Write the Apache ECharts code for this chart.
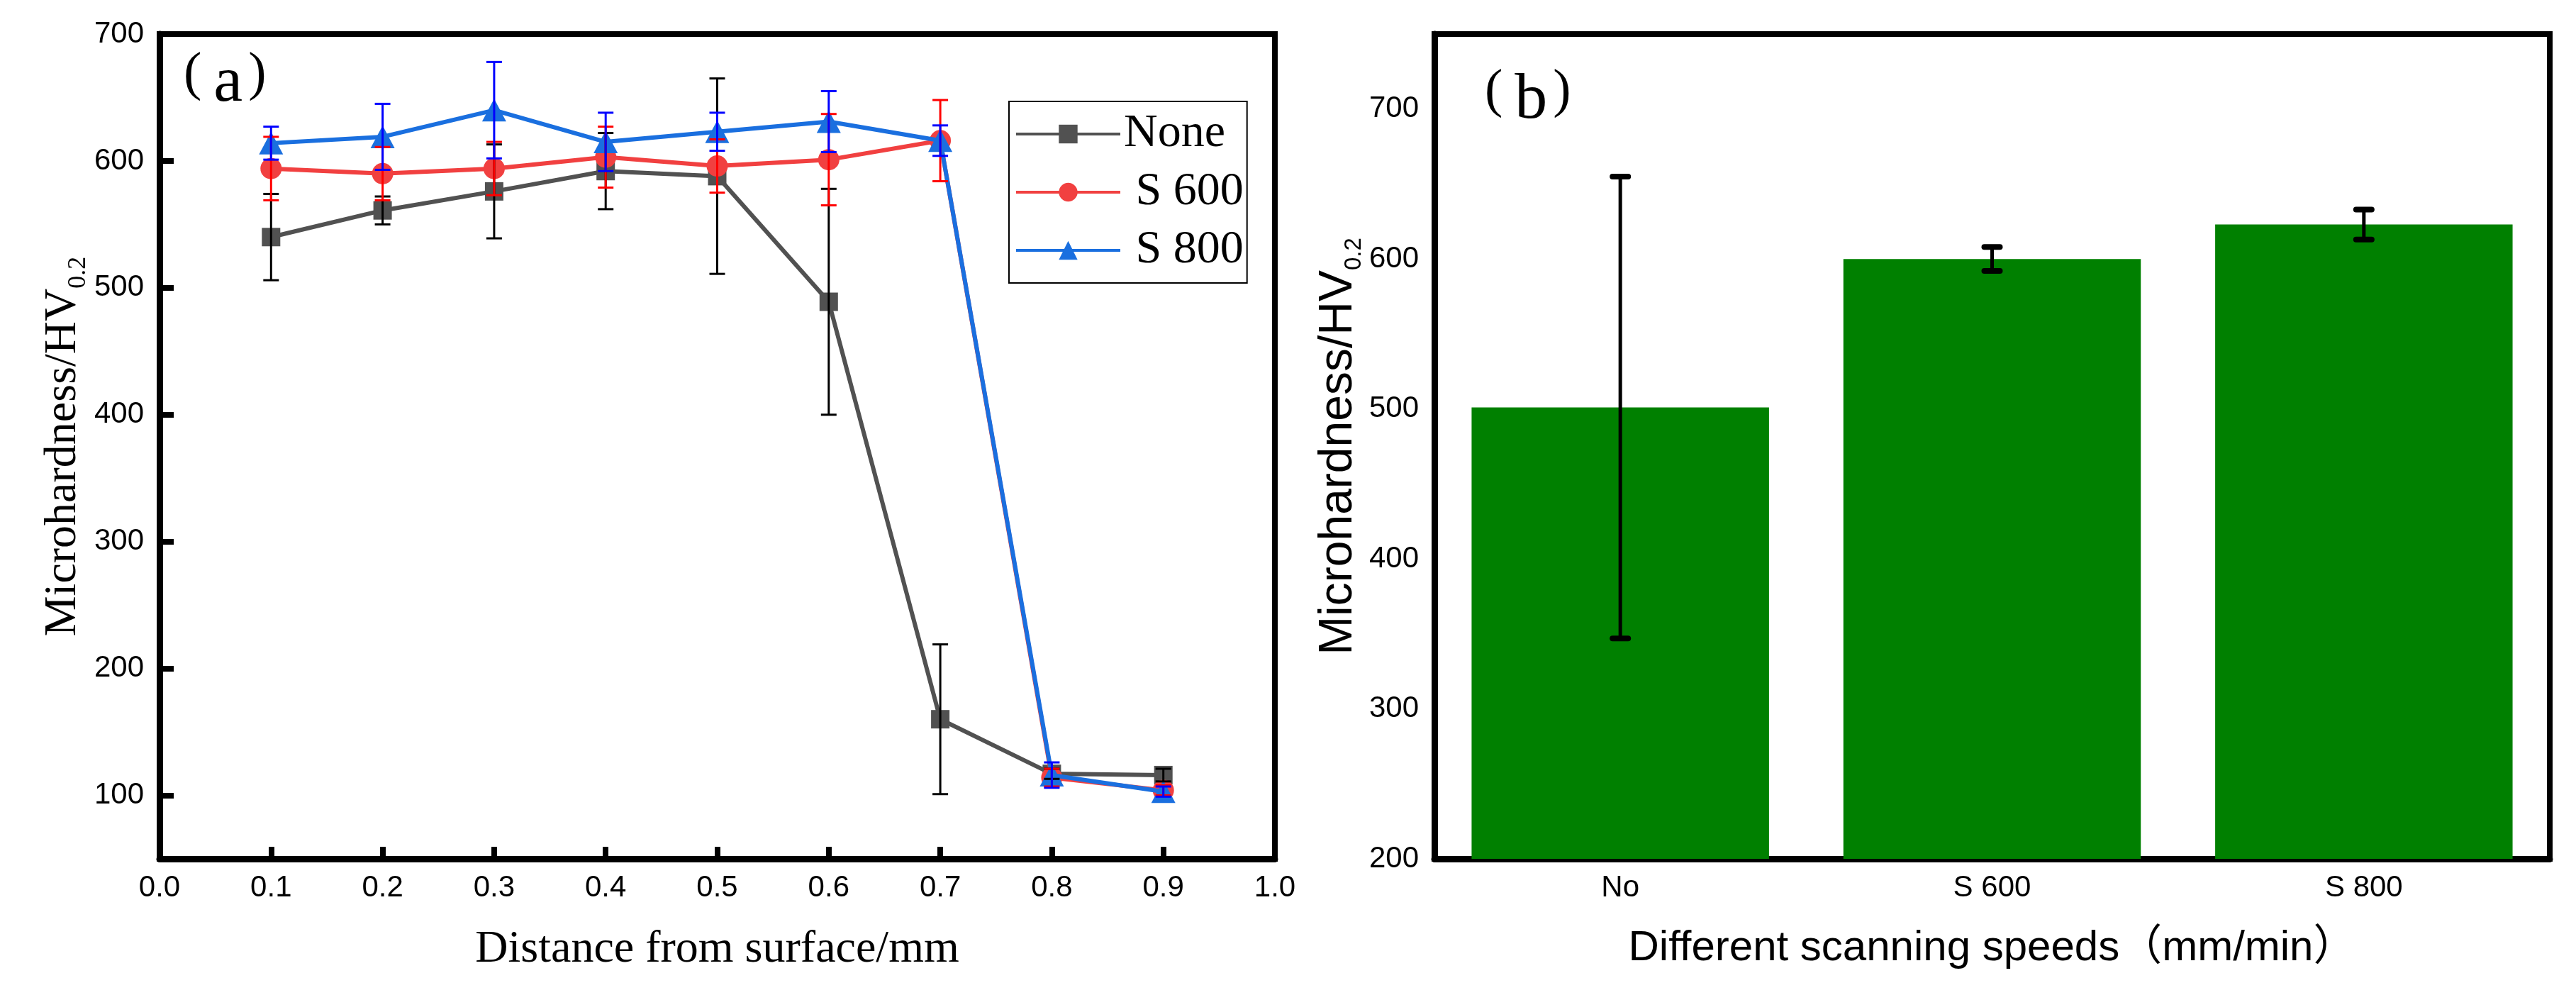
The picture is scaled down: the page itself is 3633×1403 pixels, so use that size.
<!DOCTYPE html>
<html>
<head>
<meta charset="utf-8">
<script src="https://cdn.jsdelivr.net/npm/echarts@6/dist/echarts.min.js"></script>
<style>
html, body { margin: 0; padding: 0; background: #fff; }
#main { width: 3633px; height: 1403px; }
</style>
</head>
<body>
<div id="main"></div>
<script>
// (a) 显微硬度随距表面距离的变化
var distance = [0.1, 0.2, 0.3, 0.4, 0.5, 0.6, 0.7, 0.8, 0.9];
var none = [540, 561, 576, 592, 588, 489, 160, 117, 116];
var noneErr = [34, 11, 37, 30, 77, 89, 59, 4, 5];
var s600 = [594, 590, 594, 603, 596, 601, 616, 114, 104];
var s600Err = [25, 21, 21, 24, 21, 36, 32, 7, 4];
var s800 = [614, 619, 640, 615, 623, 631, 616, 116, 103];
var s800Err = [13, 26, 38, 23, 15, 24, 12, 10, 4];
var leftTicks = [100, 200, 300, 400, 500, 600, 700];

// (b) 不同扫描速度的平均硬度
var speeds = ['No', 'S 600', 'S 800'];
var hv = [501, 600, 623];
var hvErr = [154, 8, 10];
var rightTicks = [200, 300, 400, 500, 600, 700];

var SANS = '"Liberation Sans", Arial, "Noto Sans CJK SC", sans-serif';
var SERIF = '"Liberation Serif", "Times New Roman", serif';

var myChart = echarts.init(document.getElementById('main'));

function pairs(xs, ys) {
    return xs.map(function (x, i) { return [x, ys[i]]; });
}
function errData(xs, ys, es) {
    return xs.map(function (x, i) { return [x, ys[i] - es[i], ys[i] + es[i]]; });
}

// 误差棒
function errRenderer(color, lw, capW, capLw, cap) {
    return function (params, api) {
        var x = api.value(0);
        var lo = api.coord([x, api.value(1)]);
        var hi = api.coord([x, api.value(2)]);
        var h = capW / 2;
        var capStyle = { stroke: color, lineWidth: capLw, lineCap: cap };
        return {
            type: 'group',
            children: [
                { type: 'line', shape: { x1: lo[0], y1: lo[1], x2: hi[0], y2: hi[1] }, style: { stroke: color, lineWidth: lw } },
                { type: 'line', shape: { x1: hi[0] - h, y1: hi[1], x2: hi[0] + h, y2: hi[1] }, style: capStyle },
                { type: 'line', shape: { x1: lo[0] - h, y1: lo[1], x2: lo[0] + h, y2: lo[1] }, style: capStyle }
            ]
        };
    };
}

// 面板标记 (a) (b)
function panelTag(letter, left, top) {
    return {
        type: 'text', left: left, top: top,
        style: {
            text: '{p|(}{a|' + letter + '}{p|)}',
            rich: {
                p: { fontFamily: SERIF, fontSize: 76, fill: '#000', verticalAlign: 'bottom', padding: [0, 0, 20, 0] },
                a: { fontFamily: SERIF, fontSize: 92, fill: '#000', verticalAlign: 'bottom', padding: [0, 8, 0, 17] }
            }
        }
    };
}

var axisLine = { show: true, lineStyle: { color: '#000', width: 9 } };
var tickLabel = { color: '#000', fontSize: 42, fontFamily: SANS };

var option = {
    animation: false,
    backgroundColor: '#fff',
    grid: [
        { left: 225, right: 1835, top: 48, bottom: 192, show: true, borderColor: '#000', borderWidth: 8 },
        { left: 2023, right: 37, top: 48, bottom: 192, show: true, borderColor: '#000', borderWidth: 8 }
    ],
    legend: {
        data: ['None', 'S 600', 'S 800'],
        orient: 'vertical',
        left: 1423,
        top: 143,
        itemWidth: 147,
        itemHeight: 33,
        itemGap: 16,
        padding: [13, 5, 13, 8],
        borderColor: '#000',
        borderWidth: 2,
        lineStyle: { width: 4 },
        textStyle: { fontFamily: SERIF, fontSize: 66, color: '#000' },
        formatter: function (name) { return name === 'None' ? name : ' ' + name; }
    },
    xAxis: [
        {
            type: 'value', gridIndex: 0, min: 0, max: 1, interval: 0.1,
            axisLine: axisLine,
            axisTick: { inside: true, length: 17, lineStyle: { color: '#000', width: 8 } },
            axisLabel: Object.assign({ margin: 20, formatter: function (v) { return v.toFixed(1); } }, tickLabel),
            splitLine: { show: false },
            name: 'Distance from surface/mm',
            nameLocation: 'middle',
            nameGap: 96,
            nameTextStyle: { fontFamily: SERIF, fontSize: 64, color: '#000' }
        },
        {
            type: 'category', gridIndex: 1, data: speeds, boundaryGap: true,
            axisLine: axisLine,
            axisTick: { alignWithLabel: true, inside: true, length: 16, lineStyle: { color: '#000', width: 6 } },
            axisLabel: Object.assign({ margin: 20 }, tickLabel),
            splitLine: { show: false },
            name: 'Different scanning speeds（mm/min）',
            nameLocation: 'middle',
            nameGap: 96,
            nameTextStyle: { fontFamily: SANS, fontSize: 60, color: '#000' }
        }
    ],
    yAxis: [
        {
            type: 'value', gridIndex: 0, min: 50, max: 700,
            axisLine: axisLine,
            axisTick: { inside: true, length: 20, customValues: leftTicks, lineStyle: { color: '#000', width: 8 } },
            axisLabel: Object.assign({ margin: 22, customValues: leftTicks }, tickLabel),
            splitLine: { show: false },
            name: 'Microhardness/HV{sub|0.2}',
            nameLocation: 'middle',
            nameGap: 90,
            nameTextStyle: {
                fontFamily: SERIF, fontSize: 64, color: '#000',
                rich: { sub: { fontFamily: SERIF, fontSize: 36, color: '#000', padding: [44, 0, 0, 0] } }
            }
        },
        {
            type: 'value', gridIndex: 1, min: 200, max: 750,
            axisLine: axisLine,
            axisTick: { inside: true, length: 20, customValues: rightTicks, lineStyle: { color: '#000', width: 8 } },
            axisLabel: Object.assign({ margin: 22, customValues: rightTicks }, tickLabel),
            splitLine: { show: false },
            name: 'Microhardness/HV{sub|0.2}',
            nameLocation: 'middle',
            nameGap: 97,
            nameTextStyle: {
                fontFamily: SANS, fontSize: 66, color: '#000',
                rich: { sub: { fontFamily: SANS, fontSize: 33, color: '#000', padding: [44, 0, 0, 0] } }
            }
        }
    ],
    graphic: [
        panelTag('a', 259, 68),
        panelTag('b', 2094, 92)
    ],
    series: [
        {
            name: 'None', type: 'line', xAxisIndex: 0, yAxisIndex: 0,
            data: pairs(distance, none),
            symbol: 'rect', symbolSize: 26,
            lineStyle: { color: '#515151', width: 6 },
            itemStyle: { color: '#515151' }, z: 2
        },
        {
            name: 'S 600', type: 'line', xAxisIndex: 0, yAxisIndex: 0,
            data: pairs(distance, s600),
            symbol: 'circle', symbolSize: 30,
            lineStyle: { color: '#F14040', width: 6 },
            itemStyle: { color: '#F14040' }, z: 3
        },
        {
            name: 'S 800', type: 'line', xAxisIndex: 0, yAxisIndex: 0,
            data: pairs(distance, s800),
            symbol: 'triangle', symbolSize: [34, 32],
            lineStyle: { color: '#1A6FDF', width: 6 },
            itemStyle: { color: '#1A6FDF' }, z: 4
        },
        {
            type: 'custom', xAxisIndex: 0, yAxisIndex: 0, z: 6,
            data: errData(distance, none, noneErr), encode: { x: 0, y: [1, 2] },
            renderItem: errRenderer('#000000', 3, 22, 3, 'butt')
        },
        {
            type: 'custom', xAxisIndex: 0, yAxisIndex: 0, z: 7,
            data: errData(distance, s600, s600Err), encode: { x: 0, y: [1, 2] },
            renderItem: errRenderer('#FF0000', 3, 22, 3, 'butt')
        },
        {
            type: 'custom', xAxisIndex: 0, yAxisIndex: 0, z: 8,
            data: errData(distance, s800, s800Err), encode: { x: 0, y: [1, 2] },
            renderItem: errRenderer('#0000FF', 3, 22, 3, 'butt')
        },
        {
            type: 'bar', xAxisIndex: 1, yAxisIndex: 1,
            data: hv, barWidth: '80%',
            itemStyle: { color: '#008000' }
        },
        {
            type: 'custom', xAxisIndex: 1, yAxisIndex: 1, z: 6,
            data: errData([0, 1, 2], hv, hvErr), encode: { x: 0, y: [1, 2] },
            renderItem: errRenderer('#000000', 5, 22, 8, 'round')
        }
    ]
};

myChart.setOption(option);
</script>
</body>
</html>
